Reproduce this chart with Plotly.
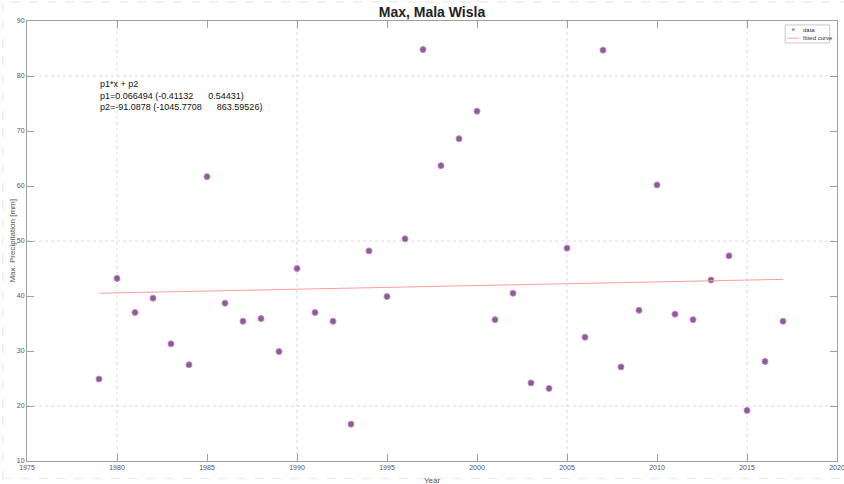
import plotly.graph_objects as go

years = list(range(1979, 2018))
max_precip = [24.9, 43.2, 37.0, 39.6, 31.3, 27.5, 61.7, 38.7, 35.4, 35.9,
              29.9, 45.0, 37.0, 35.4, 16.7, 48.2, 39.9, 50.4, 84.8, 63.7,
              68.6, 73.6, 35.7, 40.5, 24.2, 23.2, 48.7, 32.5, 84.7, 27.1,
              37.4, 60.2, 36.7, 35.7, 42.9, 47.3, 19.2, 28.1, 35.4]
p1 = 0.066494
p2 = -91.0878
fit_x = [years[0], years[-1]]
fit_y = [p1 * x + p2 for x in fit_x]

x_ticks = list(range(1975, 2021, 5))
y_ticks = list(range(10, 91, 10))
x_grid = [1980, 1990, 2005, 2015]
y_grid = [20, 50, 80]
legend_labels = ["data", "fitted curve"]

font = "Liberation Sans, Arial, sans-serif"

fig = go.Figure()
fig.add_trace(go.Scatter(x=years, y=max_precip, mode="markers", name=legend_labels[0],
                         marker=dict(size=6, color="#86608e",
                                     line=dict(color="#c77fd0", width=1))))
fig.add_trace(go.Scatter(x=fit_x, y=fit_y, mode="lines", name=legend_labels[1],
                         line=dict(color="#ff9c9c", width=1)))

shapes = []
for gx in x_grid:
    shapes.append(dict(type="line", xref="x", yref="paper", x0=gx, x1=gx, y0=0, y1=1,
                       line=dict(color="#e6e6e6", width=1.5, dash="dot"), layer="below"))
for gy in y_grid:
    shapes.append(dict(type="line", xref="paper", yref="y", x0=0, x1=1, y0=gy, y1=gy,
                       line=dict(color="#dcdcdc", width=1, dash="dot"), layer="below"))
# dashed screenshot frame
shapes.append(dict(type="rect", xref="paper", yref="paper",
                   x0=-0.030, x1=1.02, y0=-0.040, y1=1.043,
                   line=dict(color="#ededed", width=1.5, dash="dash")))
# compact legend box (MATLAB style)
shapes.append(dict(type="rect", xref="paper", yref="paper",
                   x0=0.936, x1=0.991, y0=0.950, y1=0.991,
                   line=dict(color="#c8c8c8", width=1), fillcolor="white"))
shapes.append(dict(type="line", xref="paper", yref="paper",
                   x0=0.939, x1=0.953, y0=0.961, y1=0.961,
                   line=dict(color="#ff9c9c", width=1)))
shapes.append(dict(type="circle", xref="paper", yref="paper",
                   x0=0.9445, x1=0.9475, y0=0.978, y1=0.983,
                   line=dict(color="#8080ff", width=0.5), fillcolor="#8080ff"))

annotations = [
    dict(xref="x", yref="y", x=1978.95, y=79.8, xanchor="left", yanchor="top",
         align="left", showarrow=False,
         text=("p1*x + p2<br>p1=0.066494 (-0.41132\u00a0\u00a0\u00a0\u00a0\u00a0\u00a00.54431)"
               "<br>p2=-91.0878 (-1045.7708\u00a0\u00a0\u00a0\u00a0\u00a0\u00a0863.59526)"),
         font=dict(size=9, color="#111111", family=font)),
    dict(xref="paper", yref="paper", x=0.955, y=0.9805, xanchor="left", yanchor="middle",
         showarrow=False, text=legend_labels[0], font=dict(size=6, color="#333333")),
    dict(xref="paper", yref="paper", x=0.955, y=0.961, xanchor="left", yanchor="middle",
         showarrow=False, text=legend_labels[1], font=dict(size=6, color="#333333")),
    dict(xref="paper", yref="paper", x=0.5, y=-0.029, xanchor="center", yanchor="top",
         showarrow=False, text="Year", font=dict(size=8, color="#555555")),
    dict(xref="paper", yref="paper", x=-0.019, y=0.5, xanchor="center", yanchor="middle",
         textangle=-90, showarrow=False, text="Max. Precipitation [mm]",
         font=dict(size=8, color="#555555")),
]

fig.update_layout(
    width=844, height=484,
    margin=dict(l=27, r=7, t=21, b=23),
    paper_bgcolor="white", plot_bgcolor="white",
    font=dict(family=font, color="#555555", size=7),
    title=dict(text="<b>Max, Mala Wisla</b>", x=0.5, xanchor="center",
               xref="paper", yref="container", y=0.975,
               yanchor="middle", font=dict(size=14, color="#222222", family=font)),
    showlegend=False,
    xaxis=dict(range=[1975, 2020], tickvals=x_ticks, showgrid=False, zeroline=False,
               showline=True, linecolor="#a0a0a0", linewidth=1, mirror="ticks",
               ticks="inside", ticklen=7, tickcolor="#a0a0a0", automargin=False,
               ticklabeloverflow="allow",
               tickfont=dict(size=7, color="#555555")),
    yaxis=dict(range=[10, 90], tickvals=y_ticks, showgrid=False, zeroline=False,
               showline=True, linecolor="#a0a0a0", linewidth=1, mirror="ticks",
               ticks="inside", ticklen=7, tickcolor="#a0a0a0", automargin=False,
               tickfont=dict(size=7, color="#555555")),
    shapes=shapes,
    annotations=annotations,
)

# remove the page's default body margin so the figure fills the window exactly
fig.write_html("out.html", config={"displayModeBar": False},
               post_script="document.body.style.margin='0';")
